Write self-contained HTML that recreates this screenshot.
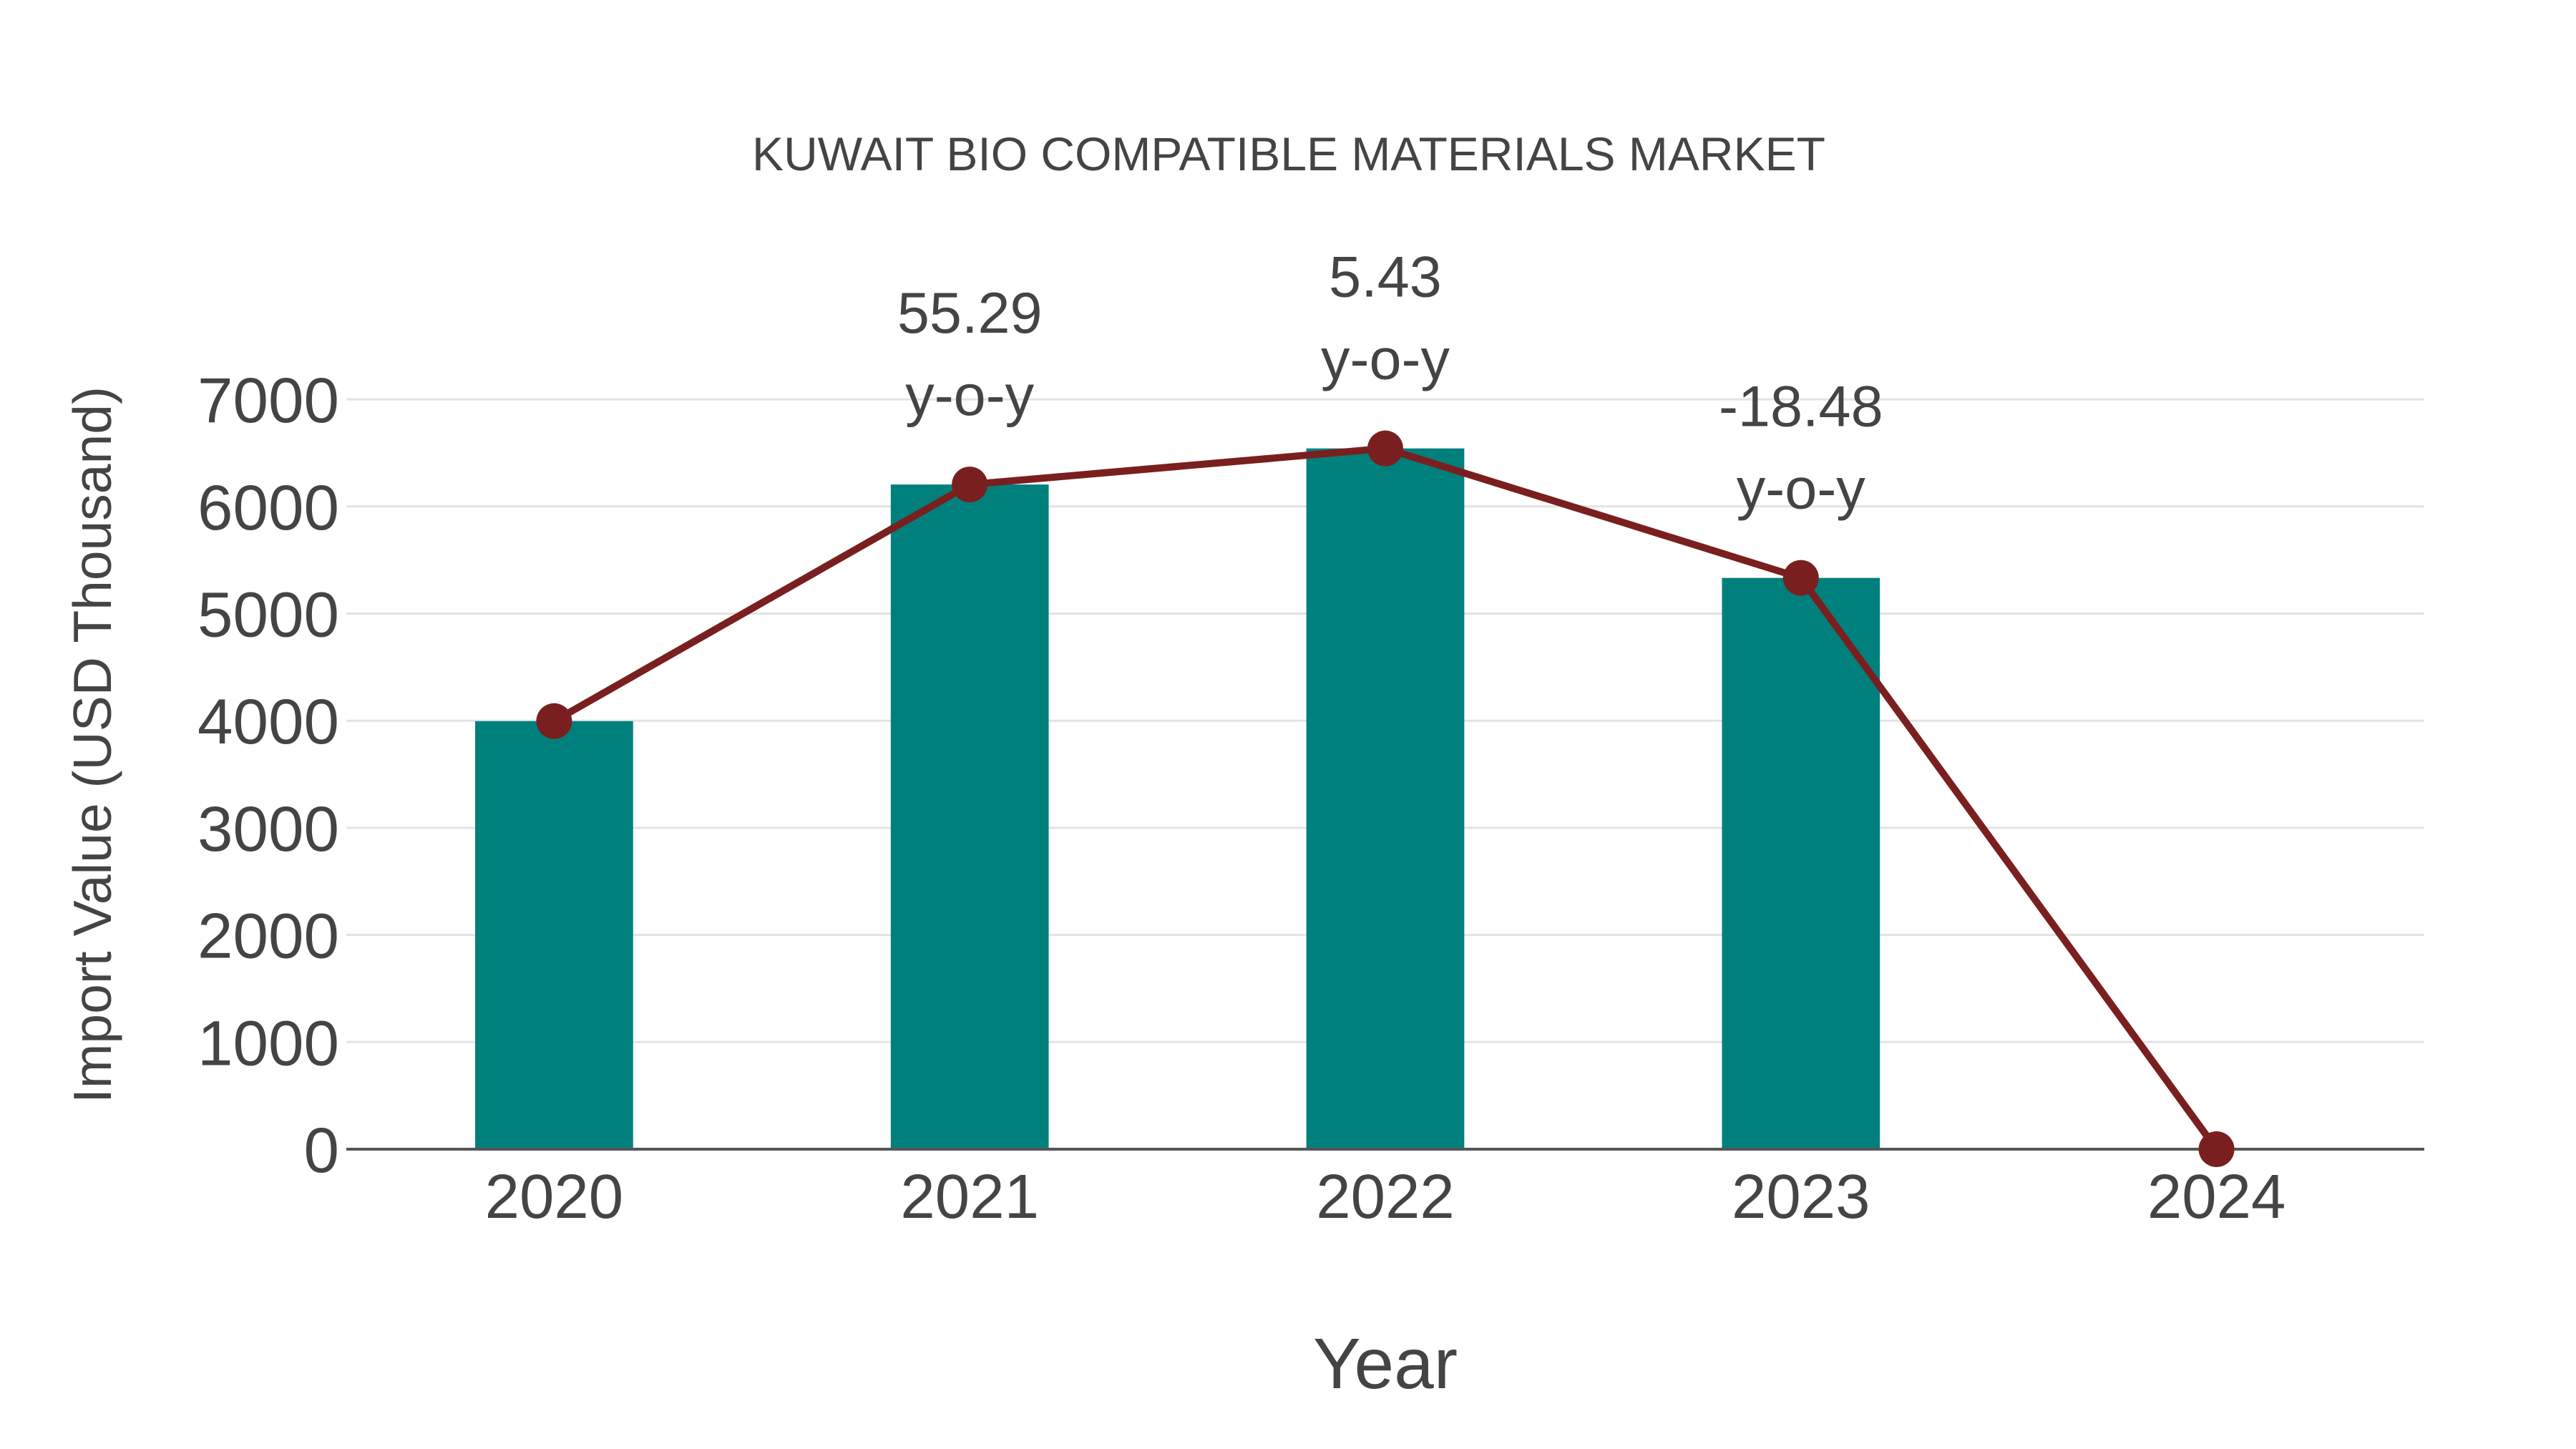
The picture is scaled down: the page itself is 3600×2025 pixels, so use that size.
<!DOCTYPE html>
<html><head><meta charset="utf-8"><style>
html,body{margin:0;padding:0;background:#fff;}
svg{display:block;font-family:"Liberation Sans",sans-serif;}
</style></head><body>
<svg id="chart" width="3600" height="2025" viewBox="0 0 3600 2025">
<text x="1801" y="238" font-size="66" fill="#444" text-anchor="middle">KUWAIT BIO COMPATIBLE MATERIALS MARKET</text>
<g id="grid"></g><g id="bars"></g><g id="line"></g><g id="labels"></g>
<text x="1936" y="1940" font-size="100" fill="#444" text-anchor="middle">Year</text>
<text transform="translate(155,1041) rotate(-90)" font-size="75" fill="#444" text-anchor="middle">Import Value (USD Thousand)</text>
</svg>
<script>
const categories=["2020","2021","2022","2023","2024"];
const barValues=[3996,6205,6542,5333,null];
const lineValues=[3996,6205,6542,5333,0];
const yoyLabels=[null,"55.29","5.43","-18.48",null];
const yTicks=[0,1000,2000,3000,4000,5000,6000,7000];
const L=484,R=3388,Y0=1606,PER=149.7/1000;
const band=(R-L)/categories.length;
const x=i=>L+band*(i+0.5);
const y=v=>Y0-v*PER;
const NS="http://www.w3.org/2000/svg";
function mk(parent,tag,attrs,text){const e=document.createElementNS(NS,tag);for(const k in attrs)e.setAttribute(k,attrs[k]);if(text!=null)e.textContent=text;document.getElementById(parent).appendChild(e);return e;}
yTicks.forEach(t=>{
  if(t>0){const g=mk('grid','line',{x1:L,x2:R,y1:y(t),y2:y(t),stroke:'#e3e3e3','stroke-width':3});
  
  }
  const tl=mk('grid','text',{x:L-10,y:y(t)+32,'font-size':89,fill:'#444','text-anchor':'end'},t);
  
  
});
categories.forEach((c,i)=>{
  if(barValues[i]!=null){const b=mk('bars','rect',{x:x(i)-band*0.19,width:band*0.38,y:y(barValues[i]),height:Y0-y(barValues[i]),fill:'#00807c'});
  
  }
  const tl=mk('labels','text',{x:x(i),y:1702,'font-size':87,fill:'#444','text-anchor':'middle'},c);
  
  
});
const ax=mk('bars','line',{x1:L,x2:R,y1:Y0,y2:Y0,stroke:'#555','stroke-width':4});


const pl=mk('line','polyline',{points:lineValues.map((v,i)=>x(i)+','+y(v)).join(' '),fill:'none',stroke:'#7a1f1f','stroke-width':10,'stroke-linejoin':'round'});


lineValues.forEach((v,i)=>{
  const m=mk('line','circle',{cx:x(i),cy:y(v),r:25,fill:'#7a1f1f'});
  
  
  if(yoyLabels[i]!=null){
    const a=mk('labels','text',{x:x(i),y:y(v)-212,'font-size':81,fill:'#444','text-anchor':'middle'},yoyLabels[i]);
    
    
    const b=mk('labels','text',{x:x(i),y:y(v)-97,'font-size':81,fill:'#444','text-anchor':'middle'},'y-o-y');
    
    
  }
});
</script>
</body></html>
